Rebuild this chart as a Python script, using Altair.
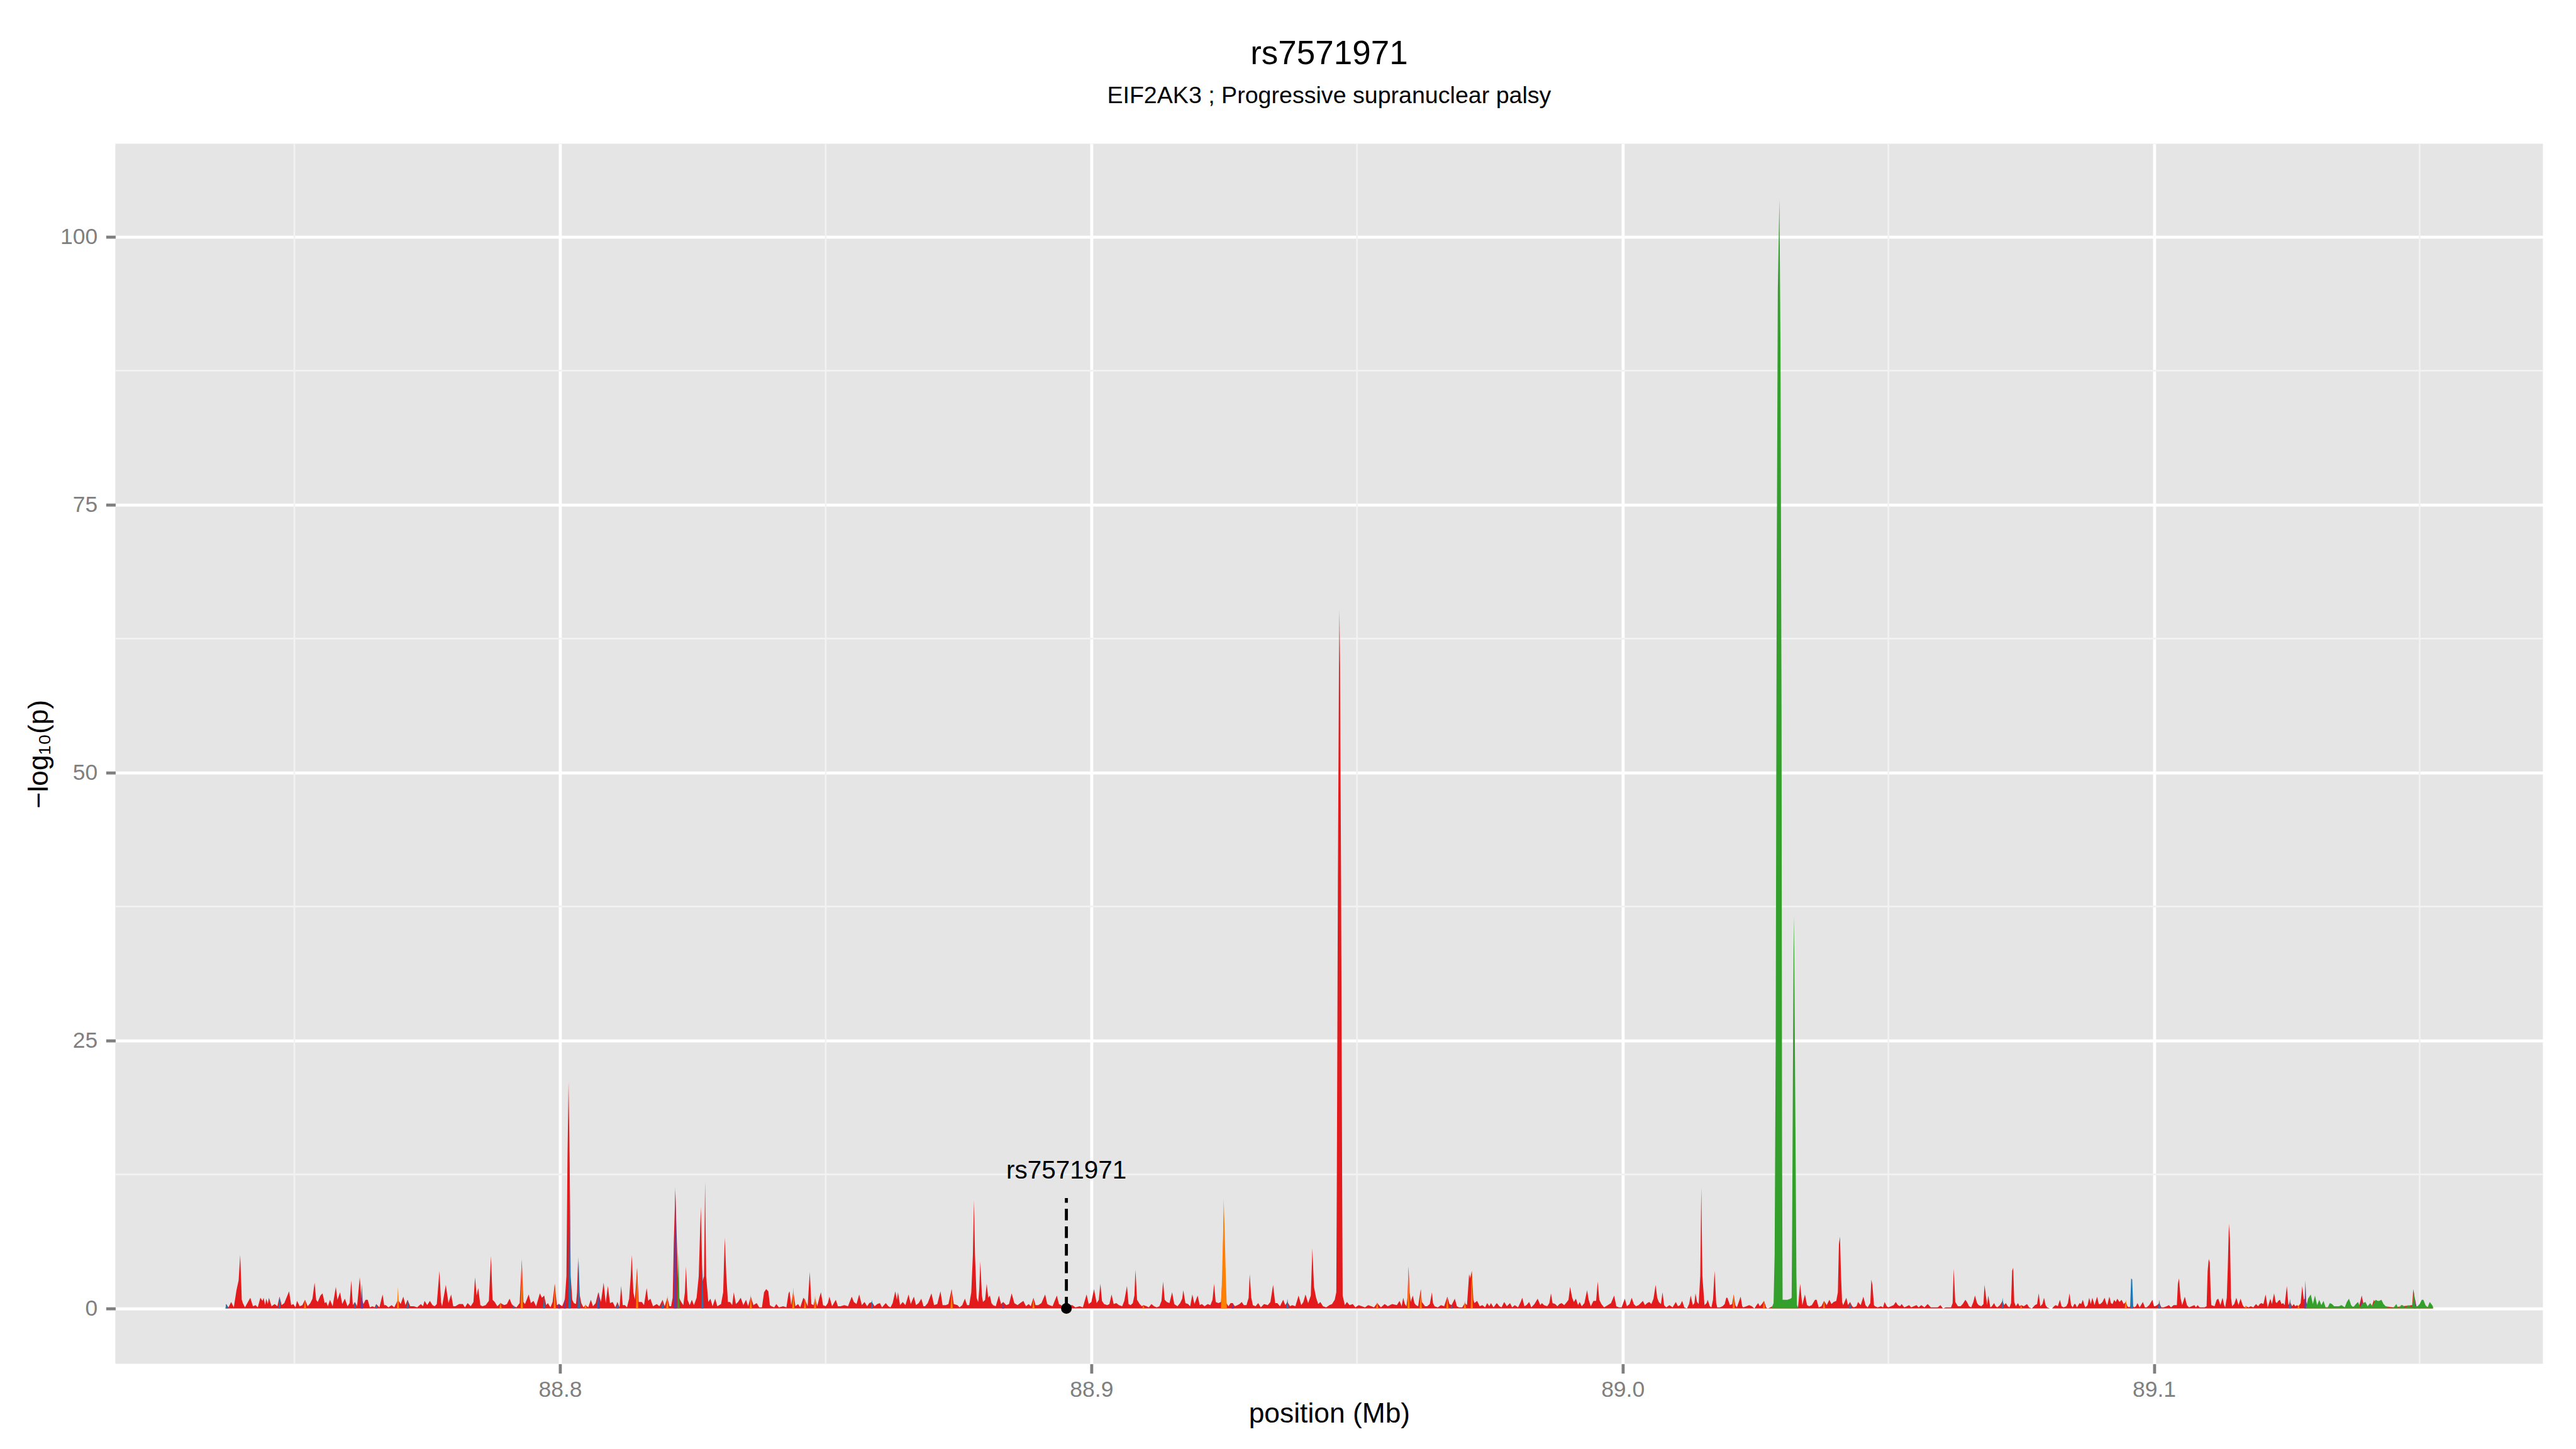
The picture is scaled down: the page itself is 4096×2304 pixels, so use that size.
import altair as alt
import pandas as pd

# ---------------- text / ticks ----------------
title_text = "rs7571971"
subtitle_text = "EIF2AK3 ; Progressive supranuclear palsy"
x_title = "position (Mb)"
y_title = "\u2212log\u2081\u2080(p)"
x_ticks = [88.8, 88.9, 89.0, 89.1]
y_ticks = [0, 25, 50, 75, 100]
x_minor = [88.75, 88.85, 88.95, 89.05, 89.15]
y_minor = [12.5, 37.5, 62.5, 87.5]

# highlighted SNP
snp_pos = [88.8953]
snp_val = [0.0]
snp_line_top = [10.3]
snp_label_y = [12.1]
snp_label = ["rs7571971"]

# ---------------- series (position Mb, -log10 p) ----------------
red = [
    (88.7371,0.4),(88.7376,0.1),(88.7381,0.6),(88.7386,0.1),(88.7391,1.7),(88.7395,2.6),(88.7398,5.0),(88.7401,0.8),
    (88.7403,0.5),(88.7407,0.1),(88.7417,1.0),(88.7422,0.2),(88.7427,0.3),(88.7431,0.1),(88.7436,1.0),(88.7440,0.7),
    (88.7442,1.0),(88.7445,0.3),(88.7447,0.9),(88.7450,0.4),(88.7452,1.0),(88.7457,0.2),(88.7463,0.4),(88.7468,0.2),
    (88.7472,1.1),(88.7476,0.3),(88.7481,0.5),(88.7490,1.6),(88.7494,0.3),(88.7498,0.4),(88.7502,0.1),(88.7505,0.7),
    (88.7510,0.2),(88.7515,0.3),(88.7520,0.8),(88.7525,0.2),(88.7530,0.5),(88.7534,0.9),(88.7538,2.4),(88.7541,0.8),
    (88.7544,0.6),(88.7549,1.2),(88.7553,1.4),(88.7557,0.5),(88.7560,0.6),(88.7563,0.2),(88.7567,0.8),(88.7572,0.2),
    (88.7578,2.0),(88.7581,0.8),(88.7586,1.5),(88.7590,0.4),(88.7595,0.9),(88.7600,0.2),(88.7604,0.5),(88.7607,2.6),
    (88.7610,0.3),(88.7614,0.6),(88.7618,0.2),(88.7623,2.9),(88.7626,1.0),(88.7630,0.4),(88.7634,0.8),(88.7638,0.8),
    (88.7642,0.1),(88.7647,0.2),(88.7651,0.1),(88.7654,0.4),(88.7660,0.1),(88.7666,1.3),(88.7669,0.3),(88.7672,0.3),
    (88.7677,0.1),(88.7683,0.3),(88.7688,0.1),(88.7695,0.8),(88.7700,0.4),(88.7705,1.1),(88.7709,0.3),(88.7713,0.8),
    (88.7718,0.2),(88.7725,0.2),(88.7731,0.1),(88.7738,0.4),(88.7742,0.2),(88.7745,0.7),(88.7750,0.3),(88.7755,0.7),
    (88.7760,0.3),(88.7764,0.2),(88.7768,0.4),(88.7773,3.5),(88.7776,0.6),(88.7778,0.2),(88.7785,2.2),(88.7790,0.5),
    (88.7795,1.3),(88.7799,0.2),(88.7803,0.2),(88.7810,0.4),(88.7817,0.4),(88.7821,0.1),(88.7826,0.5),(88.7832,0.2),
    (88.7837,0.6),(88.7840,2.9),(88.7843,1.2),(88.7846,1.9),(88.7850,0.3),(88.7854,0.2),(88.7860,0.3),(88.7866,0.7),
    (88.7870,4.9),(88.7873,0.8),(88.7877,0.6),(88.7882,0.2),(88.7888,0.5),(88.7895,0.3),(88.7900,0.4),(88.7905,0.9),
    (88.7909,0.4),(88.7913,0.2),(88.7918,0.1),(88.7924,0.5),(88.7928,4.5),(88.7931,0.6),(88.7934,0.4),(88.7941,1.3),
    (88.7945,0.5),(88.7950,0.7),(88.7955,0.2),(88.7962,1.4),(88.7966,1.0),(88.7970,1.2),(88.7974,0.3),(88.7977,0.5),
    (88.7982,0.1),(88.7986,0.6),(88.7990,2.3),(88.7994,0.3),(88.7998,0.4),(88.8004,0.2),(88.8009,0.8),(88.8012,3.0),
    (88.8014,14.0),(88.8016,21.1),(88.8018,14.0),(88.8020,3.0),(88.8023,0.8),(88.8026,0.5),(88.8030,0.4),(88.8032,1.5),
    (88.8034,4.8),(88.8036,1.5),(88.8040,0.5),(88.8044,0.1),(88.8048,0.3),(88.8053,0.1),(88.8058,0.8),(88.8062,0.2),
    (88.8067,0.5),(88.8072,1.5),(88.8077,0.6),(88.8082,2.4),(88.8086,0.5),(88.8090,2.1),(88.8094,0.5),(88.8099,0.6),
    (88.8104,0.1),(88.8108,0.6),(88.8112,0.1),(88.8115,2.1),(88.8118,0.3),(88.8122,0.3),(88.8126,0.1),(88.8130,0.9),
    (88.8133,3.0),(88.8135,5.0),(88.8138,1.5),(88.8141,0.8),(88.8145,3.8),(88.8148,0.6),(88.8154,0.6),(88.8158,0.3),
    (88.8163,1.9),(88.8166,0.7),(88.8170,0.9),(88.8175,0.2),(88.8182,0.4),(88.8187,0.2),(88.8193,0.8),(88.8197,0.2),
    (88.8202,1.0),(88.8206,0.2),(88.8209,0.2),(88.8212,1.0),(88.8214,6.0),(88.8217,11.0),(88.8220,6.0),(88.8223,1.1),
    (88.8228,0.6),(88.8232,0.3),(88.8235,1.5),(88.8237,3.9),(88.8240,0.8),(88.8244,0.3),(88.8248,0.8),(88.8252,0.3),
    (88.8257,1.0),(88.8261,3.0),(88.8265,9.5),(88.8268,2.5),(88.8271,3.0),(88.8273,11.8),(88.8275,3.0),(88.8279,0.6),
    (88.8283,0.9),(88.8287,0.2),(88.8292,0.9),(88.8296,0.2),(88.8303,0.4),(88.8307,1.5),(88.8310,6.6),(88.8313,3.0),
    (88.8316,0.6),(88.8320,0.6),(88.8324,0.3),(88.8327,1.5),(88.8331,0.4),(88.8335,0.6),(88.8340,1.0),(88.8345,0.3),
    (88.8350,0.8),(88.8354,0.2),(88.8359,1.1),(88.8364,0.3),(88.8370,0.5),(88.8375,0.1),(88.8380,0.1),(88.8384,1.5),
    (88.8388,1.8),(88.8392,1.6),(88.8395,0.3),(88.8398,0.2),(88.8403,0.1),(88.8407,0.4),(88.8412,0.1),(88.8420,0.2),
    (88.8426,0.1),(88.8430,1.4),(88.8432,1.6),(88.8435,0.3),(88.8439,1.6),(88.8443,0.2),(88.8448,0.4),(88.8452,0.1),
    (88.8458,1.0),(88.8461,0.8),(88.8466,0.2),(88.8470,3.4),(88.8473,0.4),(88.8477,0.3),(88.8480,0.9),(88.8484,0.2),
    (88.8488,1.0),(88.8491,1.5),(88.8495,0.3),(88.8500,0.2),(88.8504,0.5),(88.8507,1.1),(88.8512,0.2),(88.8519,0.8),
    (88.8523,0.2),(88.8528,0.2),(88.8535,0.3),(88.8542,0.2),(88.8549,1.1),(88.8553,0.6),(88.8558,0.4),(88.8563,1.3),
    (88.8568,0.3),(88.8573,0.6),(88.8578,0.2),(88.8582,0.5),(88.8587,0.6),(88.8592,0.2),(88.8597,0.4),(88.8602,0.5),
    (88.8606,0.1),(88.8613,0.5),(88.8618,0.2),(88.8622,0.1),(88.8626,0.5),(88.8631,1.6),(88.8634,0.8),(88.8636,1.5),
    (88.8640,0.3),(88.8645,0.6),(88.8650,0.3),(88.8656,1.3),(88.8660,0.4),(88.8666,1.1),(88.8670,0.3),(88.8675,0.5),
    (88.8680,0.9),(88.8684,0.2),(88.8687,0.2),(88.8692,0.5),(88.8699,1.4),(88.8704,0.3),(88.8710,0.4),(88.8716,1.6),
    (88.8720,0.3),(88.8726,0.3),(88.8731,0.4),(88.8737,1.8),(88.8741,0.4),(88.8748,0.3),(88.8752,0.1),(88.8757,0.3),
    (88.8762,0.9),(88.8766,0.3),(88.8770,0.3),(88.8774,1.5),(88.8777,5.0),(88.8779,10.1),(88.8781,5.0),(88.8784,1.0),
    (88.8787,0.6),(88.8789,1.8),(88.8791,4.4),(88.8794,1.2),(88.8796,0.6),(88.8800,0.8),(88.8803,2.3),(88.8806,1.0),
    (88.8809,1.2),(88.8812,0.5),(88.8815,0.3),(88.8820,0.2),(88.8826,1.2),(88.8830,0.4),(88.8834,0.6),(88.8840,0.3),
    (88.8845,0.4),(88.8850,1.4),(88.8855,0.5),(88.8861,0.3),(88.8866,0.5),(88.8872,0.7),(88.8877,0.2),(88.8882,0.4),
    (88.8886,0.2),(88.8891,1.0),(88.8895,0.3),(88.8900,0.3),(88.8906,0.5),(88.8913,1.3),(88.8917,0.4),(88.8921,0.3),
    (88.8927,0.2),(88.8935,1.2),(88.8939,0.4),(88.8943,0.3),(88.8948,0.1),(88.8953,0.7),(88.8958,0.3),(88.8964,0.3),
    (88.8970,0.1),(88.8978,0.2),(88.8984,0.1),(88.8991,1.3),(88.8995,0.4),(88.9000,0.6),(88.9005,1.8),(88.9010,0.5),
    (88.9014,0.8),(88.9017,2.3),(88.9020,0.7),(88.9024,0.4),(88.9030,0.3),(88.9034,0.4),(88.9038,1.3),(88.9042,0.4),
    (88.9047,0.5),(88.9052,0.3),(88.9058,0.2),(88.9062,0.7),(88.9067,2.1),(88.9070,0.4),(88.9074,0.3),(88.9078,0.5),
    (88.9081,1.2),(88.9083,3.6),(88.9086,0.8),(88.9091,0.4),(88.9095,0.2),(88.9098,0.3),(88.9104,0.2),(88.9108,0.1),
    (88.9113,0.4),(88.9118,0.2),(88.9123,0.1),(88.9128,0.2),(88.9132,0.7),(88.9135,2.5),(88.9138,0.8),(88.9142,0.6),
    (88.9147,0.5),(88.9152,1.5),(88.9156,0.4),(88.9162,0.2),(88.9167,0.5),(88.9171,0.9),(88.9173,1.7),(88.9177,0.5),
    (88.9182,0.4),(88.9186,0.2),(88.9190,1.3),(88.9194,0.4),(88.9200,1.2),(88.9204,0.3),(88.9208,0.4),(88.9213,0.2),
    (88.9219,0.4),(88.9224,0.3),(88.9228,0.8),(88.9231,2.3),(88.9234,0.6),(88.9239,0.5),(88.9244,0.6),(88.9247,3.0),
    (88.9249,9.0),(88.9251,3.0),(88.9254,0.5),(88.9258,0.2),(88.9262,0.5),(88.9266,0.5),(88.9270,0.2),(88.9275,0.3),
    (88.9279,0.4),(88.9283,0.6),(88.9287,0.3),(88.9292,0.3),(88.9296,1.0),(88.9298,3.2),(88.9301,1.0),(88.9304,0.3),
    (88.9309,0.2),(88.9314,0.5),(88.9319,0.1),(88.9325,0.4),(88.9332,0.3),(88.9337,0.6),(88.9342,2.2),(88.9346,0.5),
    (88.9350,0.5),(88.9355,0.2),(88.9361,0.8),(88.9365,0.3),(88.9369,0.6),(88.9374,0.2),(88.9378,0.3),(88.9384,0.2),
    (88.9390,1.2),(88.9395,0.3),(88.9399,0.6),(88.9403,1.3),(88.9408,0.5),(88.9413,1.2),(88.9416,5.6),(88.9419,2.0),
    (88.9423,1.0),(88.9427,0.4),(88.9431,0.6),(88.9436,0.2),(88.9442,0.1),(88.9448,0.3),(88.9453,0.4),(88.9458,0.8),
    (88.9461,1.5),(88.9462,12.0),(88.9464,40.0),(88.9466,60.0),(88.9467,65.2),(88.9468,60.0),(88.9470,40.0),(88.9472,12.0),
    (88.9473,1.2),(88.9477,0.3),
    (88.9481,0.6),(88.9486,0.3),(88.9492,0.4),(88.9497,0.1),(88.9503,0.3),(88.9509,0.2),(88.9515,0.1),(88.9521,0.3),
    (88.9527,0.2),(88.9532,0.1),(88.9538,0.5),(88.9545,0.1),(88.9552,0.4),(88.9558,0.2),(88.9566,0.4),(88.9575,0.3),
    (88.9580,0.7),(88.9584,0.2),(88.9587,1.0),(88.9590,0.4),(88.9593,0.2),(88.9595,1.0),(88.9597,3.9),(88.9599,1.5),
    (88.9601,0.6),(88.9605,1.2),(88.9608,0.5),(88.9611,0.3),(88.9615,0.2),(88.9620,1.8),(88.9622,0.6),(88.9625,0.4),
    (88.9628,0.2),(88.9632,0.2),(88.9637,0.4),(88.9641,1.5),(88.9643,0.5),(88.9646,0.2),(88.9652,0.1),(88.9658,0.3),
    (88.9664,0.2),(88.9670,1.1),(88.9674,0.4),(88.9678,0.3),(88.9684,0.9),(88.9688,0.2),(88.9692,0.1),(88.9698,0.1),
    (88.9703,0.5),(88.9707,0.3),(88.9711,3.2),(88.9713,2.8),(88.9716,3.5),(88.9719,0.8),(88.9721,0.5),(88.9726,0.7),
    (88.9731,0.2),(88.9736,0.3),(88.9741,0.1),(88.9745,0.5),(88.9749,0.2),(88.9752,0.5),(88.9757,0.1),(88.9763,0.5),
    (88.9768,0.2),(88.9772,0.1),(88.9777,0.6),(88.9782,0.2),(88.9788,0.5),(88.9792,0.1),(88.9797,0.3),(88.9803,0.1),
    (88.9808,0.6),(88.9811,1.0),(88.9815,0.2),(88.9819,0.3),(88.9824,0.6),(88.9828,0.1),(88.9834,0.4),(88.9840,0.9),
    (88.9845,0.3),(88.9848,0.5),(88.9852,0.3),(88.9858,0.2),(88.9862,0.5),(88.9865,1.4),(88.9868,0.5),(88.9873,0.4),
    (88.9877,0.2),(88.9881,0.4),(88.9885,0.5),(88.9890,0.3),(88.9895,0.6),(88.9898,0.8),(88.9901,2.0),(88.9905,1.0),
    (88.9908,0.6),(88.9912,0.9),(88.9916,0.3),(88.9919,0.6),(88.9923,0.2),(88.9928,0.5),(88.9933,1.7),(88.9936,0.8),
    (88.9940,0.2),(88.9945,0.7),(88.9950,0.7),(88.9953,2.5),(88.9956,0.8),(88.9960,0.4),(88.9965,0.1),(88.9972,0.3),
    (88.9978,0.5),(88.9984,1.2),(88.9988,0.2),(88.9993,0.1),(88.9998,0.1),(89.0004,0.9),(89.0008,0.2),(89.0013,0.4),
    (89.0017,1.0),(89.0021,0.4),(89.0025,0.2),(89.0030,0.3),(89.0034,0.5),(89.0038,0.7),(89.0042,0.3),(89.0046,0.5),
    (89.0050,0.6),(89.0054,0.4),(89.0058,0.9),(89.0062,2.2),(89.0065,1.0),(89.0068,0.6),(89.0072,0.4),(89.0075,1.5),
    (89.0078,0.3),(89.0082,0.1),(89.0088,0.3),(89.0094,0.1),(89.0100,0.6),(89.0104,0.2),(89.0108,0.3),(89.0112,0.7),
    (89.0116,0.1),(89.0121,0.0),(89.0125,0.4),(89.0128,1.2),(89.0132,0.3),(89.0135,0.5),(89.0137,1.4),(89.0140,0.6),
    (89.0143,0.4),(89.0146,3.0),(89.0148,11.3),(89.0150,3.0),(89.0154,0.3),(89.0158,0.5),(89.0160,0.8),(89.0164,0.2),
    (89.0167,0.1),(89.0170,0.8),(89.0173,3.5),(89.0176,0.5),(89.0178,0.1),(89.0183,0.1),(89.0188,0.2),(89.0192,0.4),
    (89.0195,1.0),(89.0197,1.0),(89.0202,0.3),(89.0206,0.4),(89.0209,1.3),(89.0212,0.3),(89.0215,0.1),(89.0222,1.1),
    (89.0225,0.2),(89.0227,0.1),(89.0233,0.2),(89.0238,0.3),(89.0243,0.2),(89.0248,0.0),(89.0252,0.3),(89.0255,0.5),
    (89.0258,0.2),(89.0262,0.4),(89.0266,0.7),(89.0270,0.1),(89.0273,0.0),(89.0278,0.1),(89.0282,0.2),(89.0284,0.1),
    (89.0330,0.1),(89.0334,2.3),(89.0338,0.3),(89.0343,1.3),(89.0347,0.3),(89.0351,0.2),(89.0356,0.3),(89.0362,0.8),
    (89.0365,0.8),(89.0369,0.1),(89.0374,0.2),(89.0379,0.7),(89.0384,0.3),(89.0389,0.8),(89.0393,0.4),(89.0397,0.6),
    (89.0402,0.7),(89.0405,1.5),(89.0407,6.0),(89.0409,6.7),(89.0411,3.0),(89.0413,0.6),(89.0415,0.3),(89.0421,1.0),
    (89.0424,0.3),(89.0428,0.6),(89.0432,0.2),(89.0435,0.1),(89.0440,0.2),(89.0443,0.6),(89.0448,0.3),(89.0453,1.1),
    (89.0457,0.3),(89.0461,0.1),(89.0466,0.5),(89.0468,2.7),(89.0470,2.2),(89.0473,0.3),(89.0475,0.2),(89.0480,0.1),
    (89.0486,0.2),(89.0490,0.1),(89.0493,0.6),(89.0497,0.2),(89.0500,0.1),(89.0505,0.2),(89.0510,0.3),(89.0514,0.6),
    (89.0518,0.3),(89.0522,0.2),(89.0525,0.4),(89.0530,0.1),(89.0535,0.2),(89.0539,0.3),(89.0543,0.1),(89.0548,0.2),
    (89.0553,0.3),(89.0557,0.1),(89.0562,0.3),(89.0568,0.1),(89.0574,0.4),(89.0580,0.1),(89.0588,0.1),(89.0593,0.1),
    (89.0598,0.3),(89.0603,0.0),(89.0608,0.1),(89.0613,0.1),(89.0618,0.1),(89.0621,0.5),(89.0623,3.7),(89.0626,0.6),
    (89.0631,0.2),(89.0636,0.2),(89.0640,0.4),(89.0645,0.8),(89.0648,0.6),(89.0652,0.2),(89.0656,0.1),(89.0660,0.6),
    (89.0663,1.2),(89.0667,0.5),(89.0670,0.3),(89.0675,0.2),(89.0679,0.4),(89.0681,2.2),(89.0683,1.4),(89.0686,0.3),
    (89.0688,1.2),(89.0692,0.1),(89.0695,0.2),(89.0699,0.5),(89.0702,0.2),(89.0705,0.1),(89.0710,0.3),(89.0715,0.7),
    (89.0718,0.3),(89.0721,0.5),(89.0725,0.2),(89.0728,0.1),(89.0731,0.5),(89.0733,3.5),(89.0735,3.8),(89.0737,0.6),
    (89.0740,0.2),(89.0744,0.5),(89.0747,0.2),(89.0750,0.3),(89.0755,0.2),(89.0761,0.4),(89.0765,0.1),(89.0770,0.0),
    (89.0776,0.3),(89.0780,0.4),(89.0783,1.4),(89.0786,0.2),(89.0790,0.4),(89.0793,1.0),(89.0796,0.3),(89.0799,0.1),
    (89.0804,0.0),(89.0808,0.0),(89.0812,0.2),(89.0815,0.3),(89.0819,0.2),(89.0823,0.8),(89.0826,0.2),(89.0830,0.1),
    (89.0835,0.2),(89.0838,0.5),(89.0841,1.4),(89.0844,0.3),(89.0847,0.1),(89.0850,0.4),(89.0852,0.4),(89.0855,0.1),
    (89.0860,0.5),(89.0863,0.4),(89.0866,0.8),(89.0869,0.3),(89.0871,0.1),(89.0875,0.3),(89.0878,1.0),(89.0881,0.4),
    (89.0884,1.0),(89.0888,0.3),(89.0893,1.1),(89.0896,0.4),(89.0899,0.4),(89.0903,0.6),(89.0907,1.0),(89.0910,0.5),
    (89.0912,0.3),(89.0916,1.1),(89.0919,0.5),(89.0922,0.4),(89.0925,0.8),(89.0928,0.6),(89.0931,0.9),(89.0935,0.6),
    (89.0939,0.8),(89.0943,0.4),(89.0947,0.6),(89.0950,0.2),(89.0953,0.1),(89.0958,0.3),(89.0963,0.1),(89.0966,0.2),
    (89.0969,0.5),(89.0973,0.1),(89.0979,0.6),(89.0983,0.1),(89.0986,0.1),(89.0991,0.3),(89.0997,0.8),(89.1000,0.2),
    (89.1002,0.2),(89.1006,0.3),(89.1010,0.5),(89.1014,0.1),(89.1018,0.1),(89.1024,0.2),(89.1028,0.3),(89.1032,0.1),
    (89.1037,0.3),(89.1043,0.3),(89.1045,2.3),(89.1047,2.8),(89.1050,1.0),(89.1053,0.3),(89.1058,1.1),(89.1062,0.3),
    (89.1066,0.1),(89.1071,0.2),(89.1076,0.3),(89.1079,0.1),(89.1082,0.3),(89.1086,0.1),(89.1095,0.1),(89.1099,0.2),
    (89.1101,3.5),(89.1103,4.6),(89.1105,4.3),(89.1107,1.0),(89.1108,0.3),(89.1114,0.2),(89.1118,0.8),(89.1121,0.9),
    (89.1125,0.3),(89.1129,1.0),(89.1132,0.3),(89.1134,0.1),(89.1137,1.0),(89.1139,4.0),(89.1141,7.9),(89.1143,6.5),
    (89.1145,1.0),(89.1147,0.2),(89.1151,0.4),(89.1155,1.0),(89.1159,0.3),(89.1163,0.9),(89.1167,0.3),(89.1170,0.1),
    (89.1173,0.2),(89.1178,0.1),(89.1182,0.2),(89.1187,0.1),(89.1192,0.4),(89.1196,0.2),(89.1199,0.4),(89.1202,0.5),
    (89.1206,0.4),(89.1210,1.3),(89.1214,0.1),(89.1219,0.9),(89.1222,0.4),(89.1226,1.4),(89.1229,0.6),(89.1231,0.5),
    (89.1234,0.7),(89.1237,0.8),(89.1240,0.4),(89.1243,0.5),(89.1246,0.3),(89.1250,2.1),(89.1253,0.3),(89.1256,0.6),
    (89.1260,0.2),(89.1263,0.4),(89.1266,0.2),(89.1269,0.3),(89.1272,0.2),(89.1276,0.5),(89.1279,2.1),(89.1282,0.8),
    (89.1285,1.0),(89.1288,0.3),(89.1295,0.1),(89.1360,0.1),(89.1386,0.2),(89.1391,1.2),(89.1395,0.2),(89.1410,0.2),
    (89.1414,0.8),(89.1418,0.3),(89.1450,0.1),(89.1486,0.3),(89.1488,1.8),(89.1491,0.9),(89.1494,0.2),(89.1525,0.1),
]

blue = [
    (88.7370,0),(88.7372,0.4),(88.7376,0),(88.7470,0),(88.7472,1.1),(88.7474,0),
    (88.7612,0),(88.7614,0.6),(88.7616,0),(88.7652,0),(88.7654,0.4),(88.7656,0),
    (88.7711,0),(88.7713,0.8),(88.7715,0),(88.7911,0),(88.7913,0.3),(88.7915,0),
    (88.7968,0),(88.7970,1.2),(88.7972,0),(88.8016,0),(88.8018,13.5),(88.8020,0),
    (88.8033,0),(88.8035,4.4),(88.8038,0),(88.8070,0),(88.8072,1.5),(88.8074,0),
    (88.8106,0),(88.8108,0.6),(88.8110,0),(88.8191,0),(88.8193,0.8),(88.8195,0),
    (88.8266,0),(88.8268,4.0),(88.8270,0),(88.8585,0),(88.8587,0.8),(88.8589,0),
    (88.9367,0),(88.9369,0.9),(88.9371,0),(88.9676,0),(88.9678,0.3),(88.9680,0),
    (89.0426,0),(89.0428,0.6),(89.0430,0),(89.0713,0),(89.0715,1.0),(89.0717,0),
    (89.0955,0),(89.0957,2.8),(89.0959,2.7),(89.0961,0),(89.1008,0),(89.1010,0.8),(89.1012,0),
    (89.1254,0),(89.1256,0.9),(89.1258,0),
]

purple = [
    (88.7625,0),(88.7627,2.3),(88.7629,0),(88.7996,0),(88.7998,0.5),(88.8000,0),
    (88.8007,0),(88.8009,1.0),(88.8011,0),(88.8071,0),(88.8073,1.5),(88.8075,0),
    (88.8214,0),(88.8217,11.4),(88.8220,0),(88.8832,0),(88.8834,0.6),(88.8836,0),
    (88.9264,0),(88.9266,0.5),(88.9268,0),(89.1283,0),(89.1285,2.6),(89.1287,0),
    (89.1389,0),(89.1391,1.2),(89.1393,0),(89.1489,0),(89.1491,1.0),(89.1493,0),
]

orange = [
    (88.7518,0),(88.7520,0.8),(88.7522,0),(88.7693,0),(88.7695,2.0),(88.7697,0),
    (88.7886,0),(88.7888,0.6),(88.7890,0),(88.7926,0),(88.7928,4.7),(88.7930,0),
    (88.7988,0),(88.7990,2.3),(88.7992,0),(88.8046,0),(88.8048,0.4),(88.8050,0),
    (88.8143,0),(88.8145,3.8),(88.8147,0),(88.8200,0),(88.8202,1.2),(88.8204,0),
    (88.8357,0),(88.8359,1.3),(88.8361,0),(88.8437,0),(88.8439,2.0),(88.8441,0),
    (88.8459,0),(88.8461,1.0),(88.8463,0),(88.8478,0),(88.8480,1.2),(88.8482,0),
    (88.8735,0),(88.8737,1.8),(88.8739,0),(88.8889,0),(88.8891,1.0),(88.8893,0),
    (88.9096,0),(88.9098,0.3),(88.9100,0),
    (88.9244,0),(88.9246,3.0),(88.9248,7.0),(88.9249,10.2),(88.9251,7.0),(88.9253,3.0),(88.9255,0),
    (88.9536,0),(88.9538,0.6),(88.9540,0),(88.9595,0),(88.9597,3.9),(88.9599,0),
    (88.9618,0),(88.9620,1.8),(88.9622,0),(88.9668,0),(88.9670,1.1),(88.9672,0),
    (88.9701,0),(88.9703,0.7),(88.9705,0),(88.9714,0),(88.9716,3.5),(88.9718,0),
    (89.0207,0),(89.0209,1.3),(89.0211,0),(89.0264,0),(89.0266,0.7),(89.0268,0),
    (89.0377,0),(89.0379,0.7),(89.0381,0),(89.0748,0),(89.0750,0.3),(89.0752,0),
    (89.0945,0),(89.0947,0.8),(89.0949,0),(89.1171,0),(89.1173,0.3),(89.1175,0),
    (89.1270,0),(89.1272,0.3),(89.1274,0),
]

green = [
    (88.8221,0),(88.8223,5.2),(88.8225,0),
    (89.0280,0.0),(89.0284,0.5),(89.0286,5.0),(89.0288,25.0),(89.0290,70.0),(89.0292,95.0),(89.0295,103.5),
    (89.0297,90.0),(89.0299,55.0),(89.0300,15.0),(89.0301,0.8),(89.0305,0.8),(89.0310,0.8),(89.0316,0.9),
    (89.0318,1.0),(89.0319,8.0),(89.0321,28.0),(89.0322,36.6),(89.0323,33.0),(89.0325,18.0),(89.0327,3.0),
    (89.0328,0.3),(89.0331,0.0),
    (89.1286,0.0),(89.1290,0.9),(89.1295,1.3),(89.1299,0.4),(89.1303,1.2),(89.1307,0.3),(89.1311,0.8),(89.1315,0.3),
    (89.1319,0.7),(89.1323,0.1),(89.1327,0.1),(89.1331,0.5),(89.1335,0.4),(89.1339,0.2),(89.1343,0.2),(89.1348,0.2),
    (89.1353,0.3),(89.1359,0.1),(89.1363,0.6),(89.1367,0.9),(89.1371,0.3),(89.1375,0.1),(89.1380,0.4),(89.1384,0.6),
    (89.1388,0.1),(89.1393,0.5),(89.1398,0.6),(89.1402,0.2),(89.1407,0.5),(89.1411,0.2),(89.1417,0.8),(89.1421,0.7),
    (89.1424,0.7),(89.1428,0.8),(89.1432,0.4),(89.1436,0.2),(89.1440,0.1),(89.1443,0.1),(89.1449,0.0),(89.1453,0.2),
    (89.1456,0.4),(89.1459,0.1),(89.1462,0.1),(89.1465,0.3),(89.1468,0.3),(89.1472,0.1),(89.1475,0.1),(89.1478,0.3),
    (89.1482,0.2),(89.1486,0.1),(89.1489,1.5),(89.1492,0.2),(89.1496,0.2),(89.1500,0.4),(89.1504,0.8),(89.1507,0.8),
    (89.1511,0.3),(89.1515,0.1),(89.1519,0.6),(89.1522,0.4),(89.1525,0.2),
]

# ---------------- chart ----------------
FONT = "Liberation Sans"
W, H = 3860, 1940

xs = alt.Scale(domain=[88.7163, 89.1732], nice=False, zero=False)
ys = alt.Scale(domain=[-5.175, 108.675], nice=False, zero=False)

xaxis = alt.Axis(
    values=x_ticks, format=".1f", title=x_title, grid=True, gridColor="#FFFFFF", gridWidth=4.8,
    domain=False, ticks=True, tickColor="#7F7F7F", tickWidth=4.8, tickSize=15,
    labelColor="#7F7F7F", labelFont=FONT, labelFontSize=35.5, labelPadding=9,
    labelFlush=False, labelOverlap=False,
    titleFont=FONT, titleFontSize=44.4, titleFontWeight="normal", titleColor="#000000",
    titleX=W / 2, titleY=80, titleBaseline="middle", titleAlign="center",
)
yaxis = alt.Axis(
    values=y_ticks, title=y_title, grid=True, gridColor="#FFFFFF", gridWidth=4.8,
    domain=False, ticks=True, tickColor="#7F7F7F", tickWidth=4.8, tickSize=15,
    labelColor="#7F7F7F", labelFont=FONT, labelFontSize=35.5, labelPadding=13.6,
    labelFlush=False, labelOverlap=False,
    titleFont=FONT, titleFontSize=44.4, titleFontWeight="normal", titleColor="#000000",
    titleAngle=270, titleX=-121.1, titleY=H / 2, titleBaseline="middle", titleAlign="center",
)

X = alt.X("pos:Q", scale=xs, axis=xaxis)
Y = alt.Y("logp:Q", scale=ys, axis=yaxis, stack=None)


def area(points, color):
    df = pd.DataFrame(points, columns=["pos", "logp"])
    return alt.Chart(df).mark_area(color=color, interpolate="linear", opacity=1).encode(x=X, y=Y)


vminor = alt.Chart(pd.DataFrame({"pos": x_minor})).mark_rule(color="#F2F2F2", strokeWidth=2.6).encode(x=X)
hminor = alt.Chart(pd.DataFrame({"logp": y_minor})).mark_rule(color="#F2F2F2", strokeWidth=2.6).encode(y=Y)

snp_df = pd.DataFrame({"pos": snp_pos, "logp": snp_val, "top": snp_line_top,
                       "ly": snp_label_y, "label": snp_label})
snp_rule = alt.Chart(snp_df).mark_rule(color="#000000", strokeWidth=4.8, strokeDash=[18.5, 9.5]).encode(
    x=X, y=Y, y2=alt.Y2("top:Q"))
snp_point = alt.Chart(snp_df).mark_point(filled=True, color="#000000", size=290, opacity=1).encode(x=X, y=Y)
snp_text = alt.Chart(snp_df).mark_text(font=FONT, fontSize=40.5, color="#000000",
                                       baseline="alphabetic", align="center").encode(
    x=X, y=alt.Y("ly:Q", scale=ys, axis=yaxis), text="label:N")

chart = alt.layer(
    vminor, hminor,
    area(red, "#E31A1C"),
    area(blue, "#1F78B4"),
    area(purple, "#6A3D9A"),
    area(orange, "#FF7F00"),
    area(green, "#33A02C"),
    snp_rule, snp_point, snp_text,
).properties(
    width=W, height=H,
    title=alt.TitleParams(
        text=title_text, subtitle=subtitle_text, anchor="middle",
        font=FONT, fontSize=53, fontWeight="normal", color="#000000",
        subtitleFont=FONT, subtitleFontSize=37.6, subtitleFontWeight="normal", subtitleColor="#000000",
        subtitlePadding=21.5, offset=55.6,
    ),
    autosize=alt.AutoSizeParams(type="none"),
    padding={"left": 175.4, "top": 220.6, "right": 44.6, "bottom": 127.7},
    background="#FFFFFF",
).configure_view(fill="#E5E5E5", strokeWidth=0)

chart.save("out.html", embed_options={"renderer": "svg", "actions": False})
